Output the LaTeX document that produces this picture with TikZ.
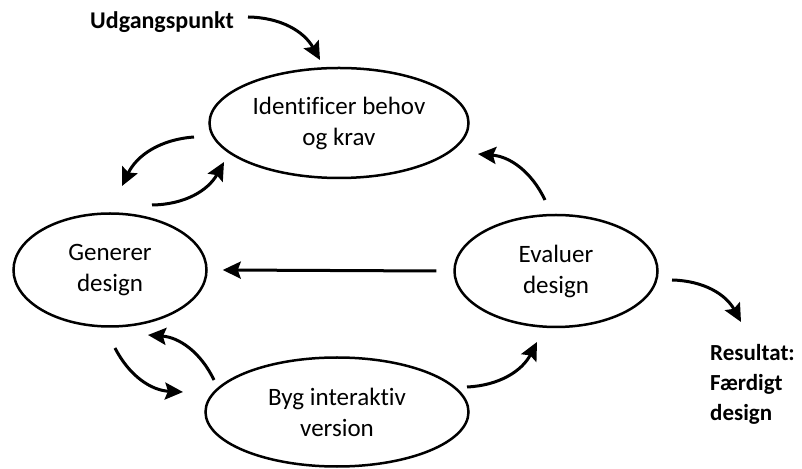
\documentclass[tikz,border=0pt]{standalone}
\usepackage{fontspec}
\setmainfont[Ligatures = NoCommon]{Carlito}
\usetikzlibrary{shapes.geometric,arrows.meta}

\begin{document}
\begin{tikzpicture}[x = 1pt, y = 1pt]
	% Fix the page to the reference size
	\useasboundingbox (0, 0) rectangle (802, 468);

	% Styles for the ellipses and the curved arrows
	\tikzset{phase/.style = {draw, ellipse, line width = 2.5pt, inner sep = 0pt, align = center, font = \fontsize{25}{31}\selectfont}}
	\tikzset{thick arrows/.style = {-{Stealth[length = 18pt, width = 17pt, inset = 3pt]}, line width = 3pt}}

	% Draw the four phases
	\node[phase, minimum width = 259, minimum height = 110] (ident) at (339, 345) {Identificer behov\\og krav};
	\node[phase, minimum width = 193, minimum height = 113] (gen) at (110, 198) {Generer\\design};
	\node[phase, minimum width = 203, minimum height = 112] (eval) at (556, 197) {Evaluer\\design};
	\node[phase, minimum width = 263, minimum height = 109] (byg) at (337, 56) {Byg interaktiv\\version};

	% Start and result labels
	\node[font = \bfseries\fontsize{24}{29}\selectfont] (start) at (162, 446) {Udgangspunkt};
	\node[font = \bfseries\fontsize{23}{30}\selectfont, align = left, anchor = west, inner sep = 0pt] (result) at (710, 84) {Resultat:\\Færdigt\\design};

	% Define the free ends of the arrows
	\coordinate (s1) at (248, 451); \coordinate (t1) at (320, 408);
	\coordinate (s2) at (194, 331); \coordinate (t2) at (122, 282);
	\coordinate (s3) at (152, 263); \coordinate (t3) at (224, 306);
	\coordinate (s4) at (545, 268); \coordinate (t4) at (478, 314);
	\coordinate (s5) at (115, 120); \coordinate (t5) at (183, 76);
	\coordinate (s6) at (214, 88); \coordinate (t6) at (148, 133);
	\coordinate (s7) at (467, 81); \coordinate (t7) at (537, 126);
	\coordinate (s8) at (672, 188); \coordinate (t8) at (741, 146);

	% Draw the arrows between the phases
	\draw[thick arrows] (s1) to[bend left = 30] (t1);
	\draw[thick arrows] (s2) to[bend right = 30] (t2);
	\draw[thick arrows] (s3) to[bend right = 30] (t3);
	\draw[thick arrows] (eval.west) ++(-17, 0) -- ([xshift = 15]gen.east);
	\draw[thick arrows] (s4) to[bend right = 30] (t4);
	\draw[thick arrows] (s5) to[bend right = 30] (t5);
	\draw[thick arrows] (s6) to[bend right = 30] (t6);
	\draw[thick arrows] (s7) to[bend right = 30] (t7);
	\draw[thick arrows] (s8) to[bend left = 30] (t8);
\end{tikzpicture}
\end{document}
